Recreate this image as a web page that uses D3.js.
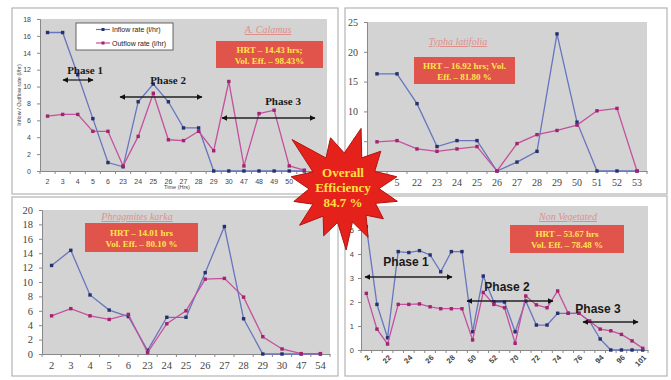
<!DOCTYPE html>
<html>
<head>
<meta charset="utf-8">
<script src="https://cdn.jsdelivr.net/npm/d3@7"></script>
<style>
  body { margin: 0; background: #fff; }
  svg { display: block; }
  .tick line { stroke: #888; }
  .domain { stroke: #888; }
</style>
</head>
<body>
<div id="chart"></div>
<script>
// A. Calamus
var calamusTimes = ["2","3","4","5","6","23","24","25","26","27","28","29","30","47","48","49","50","51","52"];
var calamusInflow = [16.4,16.4,11.4,6.2,1.0,0.5,8.2,10.3,8.2,5.1,5.1,0,0,0,0,0,0,0];
var calamusOutflow = [6.5,6.7,6.7,4.7,4.7,0.6,4.1,9.2,3.7,3.6,4.7,2.4,10.6,0.6,6.8,7.2,0.6,0.1];

// Typha latifolia
var typhaTimes = ["2","5","22","23","24","25","26","27","28","29","50","51","52","53"];
var typhaInflow = [16.3,16.3,11.3,4.1,5.1,5.1,0,1.5,3.3,23.0,8.2,0,0,0];
var typhaOutflow = [4.9,5.1,3.7,3.3,3.7,4.1,0,4.6,6.1,6.8,7.7,10.1,10.5,0];

// Phragmites karka
var phragTimes = ["2","3","4","5","6","23","24","25","26","27","28","29","30","47","54"];
var phragInflow = [12.3,14.4,8.2,6.1,5.2,0.5,5.1,5.1,11.3,17.7,4.9,0,0,0,0];
var phragOutflow = [5.3,6.3,5.3,4.8,5.5,0.2,4.2,6.0,10.4,10.5,7.9,2.4,0.7,0.05,0.05];

// Non Vegetated
var nonVegTimes = ["2","21","22","23","24","25","26","27","28","29","50","51","52","53","70","71","72","73","74","75","76","77","94","95","96","98","101"];
var nonVegInflow = [5.14,1.9,0.51,4.1,4.06,4.14,3.96,3.26,4.1,4.1,0.76,3.08,2.0,2.0,0.76,2.04,1.04,1.04,1.53,1.53,1.53,1.2,0.46,0,0,0,0];
var nonVegOutflow = [2.36,0.87,0.25,1.9,1.9,1.92,1.8,1.72,1.72,1.72,0.42,2.4,1.9,1.76,0.28,2.25,1.88,1.76,2.46,1.53,1.53,1.2,0.87,0.8,0.65,0.38,0.07];

var legendLabels = ["Inflow rate (l/hr)", "Outflow rate (l/hr)"];
var overallText = ["Overall", "Efficiency", "84.7 %"];

var BLUE = "#6775bf", BLUE_DOT = "#26306c";
var PINK = "#c4509e", PINK_DOT = "#a2236f";
var SERIF = "'Liberation Serif','DejaVu Serif',serif";
var SANS = "'Liberation Sans',Arial,sans-serif";

var svg = d3.select("#chart").append("svg")
    .attr("width", 671).attr("height", 380);

var defs = svg.append("defs");
defs.append("marker")
    .attr("id", "arrowHead")
    .attr("viewBox", "0 0 10 10")
    .attr("refX", 9).attr("refY", 5)
    .attr("markerWidth", 4.5).attr("markerHeight", 4.5)
    .attr("orient", "auto-start-reverse")
    .append("path").attr("d", "M0,0 L10,5 L0,10 z").attr("fill", "#111");

var panels = [
    {
        box: [12, 8, 326, 186], plot: [40, 327, 19, 171], max: 18, step: 2,
        times: calamusTimes, inflow: calamusInflow, outflow: calamusOutflow,
        tickFont: "7px " + SANS,
        title: "A. Calamus", titlePos: [268, 33], titleSize: 10,
        redBox: [216, 41, 107, 27], redLines: ["HRT – 14.43 hrs;", "Vol. Eff. – 98.43%"], redSize: 9,
        phases: [
            {t: "Phase 1", x: 85, y: 74, a: [63, 93, 80]},
            {t: "Phase 2", x: 168, y: 84, a: [120, 202, 97]},
            {t: "Phase 3", x: 283, y: 105, a: [222, 315, 118]}
        ],
        phaseFont: "bold 11px " + SERIF,
        legend: true, xLabel: "Time (Hrs)", yLabel: "Inflow / Outflow rate (l/hr)"
    },
    {
        box: [345, 8, 322, 186], plot: [367, 647, 22, 171], max: 25, step: 5,
        times: typhaTimes, inflow: typhaInflow, outflow: typhaOutflow,
        tickFont: "10px " + SERIF,
        title: "Typha latifolia", titlePos: [458, 45], titleSize: 10,
        redBox: [414, 57, 101, 27], redLines: ["HRT – 16.92 hrs; Vol.", "Eff. – 81.80 %"], redSize: 9,
        phases: []
    },
    {
        box: [12, 197, 326, 179], plot: [42, 330, 210, 354], max: 20, step: 2,
        times: phragTimes, inflow: phragInflow, outflow: phragOutflow,
        tickFont: "10.5px " + SERIF,
        title: "Phragmites karka", titlePos: [137, 220], titleSize: 10,
        redBox: [85, 223, 113, 29], redLines: ["HRT – 14.01 hrs", "Vol. Eff. – 80.10 %"], redSize: 9,
        phases: []
    },
    {
        box: [345, 196, 322, 180], plot: [361, 648, 206, 350], max: 6, step: 1,
        times: nonVegTimes, inflow: nonVegInflow, outflow: nonVegOutflow,
        tickFont: "7.5px " + SANS, rotate: true,
        title: "Non Vegetated", titlePos: [568, 220], titleSize: 10,
        redBox: [510, 225, 114, 28], redLines: ["HRT – 53.67 hrs", "Vol. Eff. – 78.48 %"], redSize: 9,
        phases: [
            {t: "Phase 1", x: 406, y: 266, a: [365, 452, 277]},
            {t: "Phase 2", x: 507, y: 291, a: [467, 553, 301]},
            {t: "Phase 3", x: 598, y: 313, a: [583, 638, 322]}
        ],
        phaseFont: "bold 12px " + SANS
    }
];

panels.forEach(function(p) {
    var g = svg.append("g");
    g.append("rect")
        .attr("x", p.box[0]).attr("y", p.box[1])
        .attr("width", p.box[2]).attr("height", p.box[3])
        .attr("fill", "#fff").attr("stroke", "#b4b4b4").attr("stroke-width", 1.2);

    var x0 = p.plot[0], x1 = p.plot[1], yTop = p.plot[2], yBot = p.plot[3];
    g.append("rect")
        .attr("x", x0).attr("y", yTop)
        .attr("width", x1 - x0).attr("height", yBot - yTop)
        .attr("fill", "#d3d3d3");

    var xBand = d3.scaleBand().domain(d3.range(p.times.length)).range([x0, x1]);
    var y = d3.scaleLinear().domain([0, p.max]).range([yBot, yTop]);
    var cx = function(d, i) { return xBand(i) + xBand.bandwidth() / 2; };

    // y axis
    var yAxis = g.append("g").attr("transform", "translate(" + x0 + ",0)")
        .call(d3.axisLeft(y).tickValues(d3.range(0, p.max + 0.001, p.step))
            .tickFormat(d3.format("d")).tickSize(3).tickPadding(p.rotate ? 4 : 6));
    yAxis.selectAll("text").style("font", p.tickFont).attr("fill", "#444");

    // x axis
    var xAxis = g.append("g").attr("transform", "translate(0," + yBot + ")")
        .call(d3.axisBottom(xBand).tickSize(0).tickPadding(p.rotate ? 6 : 8)
            .tickFormat(function(i) {
                if (p.rotate && i % 2 !== 0) return "";
                return p.times[i];
            }));
    xAxis.selectAll("text").style("font", p.tickFont).attr("fill", "#444");
    if (p.rotate) {
        xAxis.selectAll("text")
            .style("font-weight", "bold")
            .attr("text-anchor", "end")
            .attr("dy", "0.35em")
            .attr("transform", "translate(-2,2) rotate(-45)");
    }
    xAxis.selectAll(".bound").data(d3.range(p.times.length + 1)).enter()
        .append("line").attr("class", "bound")
        .attr("x1", function(i) { return i < p.times.length ? xBand(i) : x1; })
        .attr("x2", function(i) { return i < p.times.length ? xBand(i) : x1; })
        .attr("y1", 0).attr("y2", 3)
        .attr("stroke", "#888");

    var line = d3.line().x(cx).y(function(d) { return y(d); });

    [[p.inflow, BLUE, BLUE_DOT], [p.outflow, PINK, PINK_DOT]].forEach(function(s) {
        g.append("path").datum(s[0])
            .attr("d", line).attr("fill", "none")
            .attr("stroke", s[1]).attr("stroke-width", 1.3);
        g.selectAll(null).data(s[0]).enter().append("rect")
            .attr("x", function(d, i) { return cx(d, i) - 1.7; })
            .attr("y", function(d) { return y(d) - 1.7; })
            .attr("width", 3.4).attr("height", 3.4)
            .attr("fill", s[2]);
    });

    // species title
    g.append("text")
        .attr("x", p.titlePos[0]).attr("y", p.titlePos[1])
        .attr("text-anchor", "middle")
        .style("font", "italic " + p.titleSize + "px " + SERIF)
        .style("text-decoration", "underline")
        .attr("fill", "#df8f8a")
        .text(p.title);

    // HRT box
    g.append("rect")
        .attr("x", p.redBox[0]).attr("y", p.redBox[1])
        .attr("width", p.redBox[2]).attr("height", p.redBox[3])
        .attr("fill", "#e0544c");
    p.redLines.forEach(function(t, k) {
        g.append("text")
            .attr("x", p.redBox[0] + p.redBox[2] / 2)
            .attr("y", p.redBox[1] + p.redBox[3] / 2 + (k === 0 ? -2 : 9))
            .attr("text-anchor", "middle")
            .style("font", "bold " + p.redSize + "px " + SERIF)
            .attr("fill", "#ffe54a")
            .text(t);
    });

    // phase labels and arrows
    p.phases.forEach(function(ph) {
        g.append("text")
            .attr("x", ph.x).attr("y", ph.y)
            .attr("text-anchor", "middle")
            .style("font", p.phaseFont)
            .attr("fill", "#1a1a1a")
            .text(ph.t);
        g.append("line")
            .attr("x1", ph.a[0]).attr("x2", ph.a[1])
            .attr("y1", ph.a[2]).attr("y2", ph.a[2])
            .attr("stroke", "#222").attr("stroke-width", 1.3)
            .attr("marker-start", "url(#arrowHead)")
            .attr("marker-end", "url(#arrowHead)");
    });

    if (p.legend) {
        var lg = g.append("g");
        lg.append("rect").attr("x", 76).attr("y", 23).attr("width", 97).attr("height", 27)
            .attr("fill", "#fff").attr("stroke", "#444").attr("stroke-width", 0.8);
        [[BLUE, BLUE_DOT], [PINK, PINK_DOT]].forEach(function(c, k) {
            var ly = 29.5 + k * 13.5;
            lg.append("line").attr("x1", 96).attr("x2", 110).attr("y1", ly).attr("y2", ly)
                .attr("stroke", c[0]).attr("stroke-width", 1.2);
            lg.append("rect").attr("x", 101.5).attr("y", ly - 1.5).attr("width", 3).attr("height", 3)
                .attr("fill", c[1]);
            lg.append("text").attr("x", 112).attr("y", ly + 2.5)
                .style("font", "7px " + SANS).attr("fill", "#222")
                .text(legendLabels[k]);
        });
    }
    if (p.xLabel) {
        g.append("text").attr("x", 177).attr("y", 189).attr("text-anchor", "middle")
            .style("font", "5.5px " + SANS).attr("fill", "#444").text(p.xLabel);
    }
    if (p.yLabel) {
        g.append("text").attr("transform", "translate(21,95) rotate(-90)")
            .attr("text-anchor", "middle")
            .style("font", "5.5px " + SANS).attr("fill", "#444").text(p.yLabel);
    }
});

// overall efficiency starburst
var starCx = 344, starCy = 188;
var spikes = [[-137, 71], [-105, 52], [-74, 62], [-45, 52], [-12, 54], [14, 55], [38, 50],
              [64, 55], [88, 62], [113, 52], [140, 58], [165, 52], [192, 54]];
var starPts = [];
spikes.forEach(function(s, k) {
    var next = spikes[(k + 1) % spikes.length];
    var a2 = k + 1 < spikes.length ? next[0] : next[0] + 360;
    var mid = (s[0] + a2) / 2;
    starPts.push([starCx + s[1] * Math.cos(s[0] * Math.PI / 180), starCy + s[1] * Math.sin(s[0] * Math.PI / 180)]);
    starPts.push([starCx + 35 * Math.cos(mid * Math.PI / 180), starCy + 35 * Math.sin(mid * Math.PI / 180)]);
});
svg.append("path")
    .attr("d", d3.line()(starPts) + "Z")
    .attr("fill", "#e4211b")
    .attr("stroke", "#b01410").attr("stroke-width", 1);

overallText.forEach(function(t, k) {
    svg.append("text")
        .attr("x", 343).attr("y", 177 + k * 15)
        .attr("text-anchor", "middle")
        .style("font", "bold 13px " + SERIF)
        .attr("fill", "#ffe040")
        .text(t);
});
</script>
</body>
</html>
